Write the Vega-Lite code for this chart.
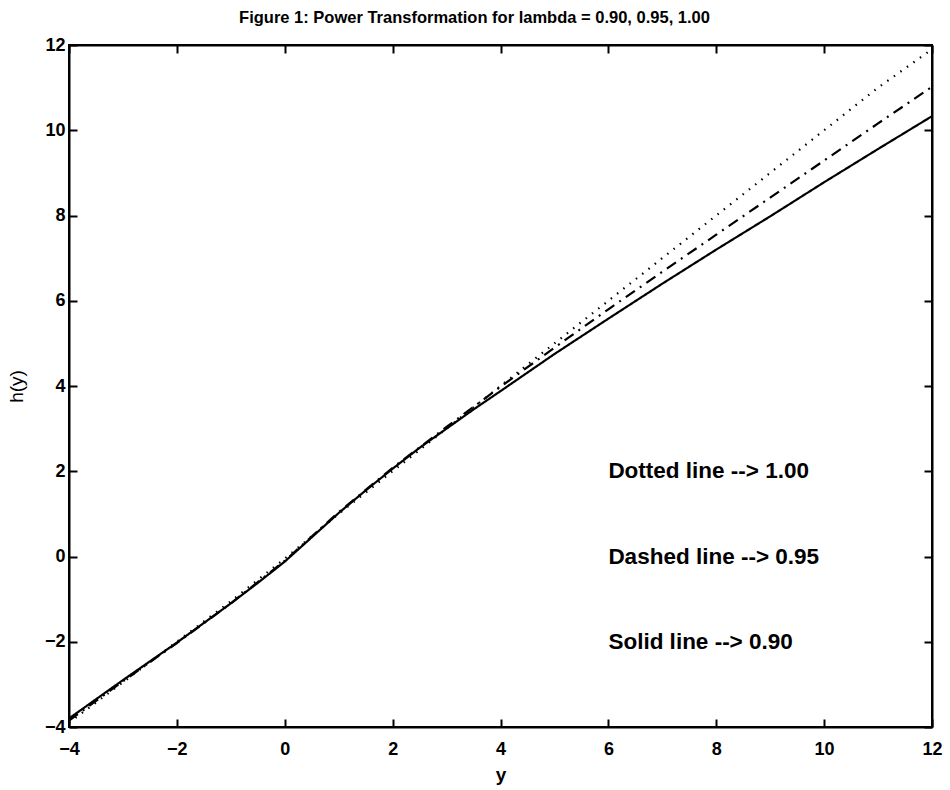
{
  "$schema": "https://vega.github.io/schema/vega-lite/v6.json",
  "width": 863,
  "height": 682,
  "autosize": {"type": "none"},
  "padding": {"left": 69, "top": 45, "right": 18, "bottom": 63},
  "background": "white",
  "config": {
    "view": {"stroke": "black", "strokeWidth": 2},
    "font": "Liberation Sans"
  },
  "title": {
    "text": "Figure 1:  Power Transformation for lambda = 0.90, 0.95, 1.00",
    "fontSize": 16.5,
    "fontWeight": "bold",
    "font": "Liberation Sans",
    "color": "black",
    "anchor": "middle",
    "dx": -26,
    "offset": 10
  },
  "datasets": {
    "curves": [
      {"x": -4, "h": -3.80, "series": "0.90"},
      {"x": -3, "h": -2.90, "series": "0.90"},
      {"x": -2, "h": -2.02, "series": "0.90"},
      {"x": -1, "h": -1.10, "series": "0.90"},
      {"x": -0.5, "h": -0.62, "series": "0.90"},
      {"x": 0, "h": -0.12, "series": "0.90"},
      {"x": 0.5, "h": 0.45, "series": "0.90"},
      {"x": 1, "h": 1.02, "series": "0.90"},
      {"x": 1.5, "h": 1.55, "series": "0.90"},
      {"x": 2, "h": 2.06, "series": "0.90"},
      {"x": 2.5, "h": 2.55, "series": "0.90"},
      {"x": 3, "h": 3.00, "series": "0.90"},
      {"x": 3.5, "h": 3.45, "series": "0.90"},
      {"x": 4, "h": 3.88, "series": "0.90"},
      {"x": 5, "h": 4.75, "series": "0.90"},
      {"x": 6, "h": 5.58, "series": "0.90"},
      {"x": 7, "h": 6.40, "series": "0.90"},
      {"x": 8, "h": 7.20, "series": "0.90"},
      {"x": 9, "h": 7.98, "series": "0.90"},
      {"x": 10, "h": 8.78, "series": "0.90"},
      {"x": 11, "h": 9.56, "series": "0.90"},
      {"x": 12, "h": 10.33, "series": "0.90"},
      {"x": -4, "h": -3.85, "series": "0.95"},
      {"x": -3, "h": -2.93, "series": "0.95"},
      {"x": -2, "h": -2.03, "series": "0.95"},
      {"x": -1, "h": -1.10, "series": "0.95"},
      {"x": -0.5, "h": -0.60, "series": "0.95"},
      {"x": 0, "h": -0.10, "series": "0.95"},
      {"x": 0.5, "h": 0.47, "series": "0.95"},
      {"x": 1, "h": 1.04, "series": "0.95"},
      {"x": 2, "h": 2.08, "series": "0.95"},
      {"x": 3, "h": 3.04, "series": "0.95"},
      {"x": 4, "h": 3.98, "series": "0.95"},
      {"x": 5, "h": 4.90, "series": "0.95"},
      {"x": 6, "h": 5.80, "series": "0.95"},
      {"x": 7, "h": 6.68, "series": "0.95"},
      {"x": 8, "h": 7.55, "series": "0.95"},
      {"x": 9, "h": 8.42, "series": "0.95"},
      {"x": 10, "h": 9.29, "series": "0.95"},
      {"x": 11, "h": 10.16, "series": "0.95"},
      {"x": 12, "h": 11.02, "series": "0.95"},
      {"x": -4, "h": -3.90, "series": "1.00"},
      {"x": -3, "h": -2.95, "series": "1.00"},
      {"x": -2, "h": -2.00, "series": "1.00"},
      {"x": -1, "h": -1.05, "series": "1.00"},
      {"x": 0, "h": -0.05, "series": "1.00"},
      {"x": 1, "h": 1.00, "series": "1.00"},
      {"x": 2, "h": 2.00, "series": "1.00"},
      {"x": 3, "h": 3.00, "series": "1.00"},
      {"x": 4, "h": 4.00, "series": "1.00"},
      {"x": 5, "h": 5.00, "series": "1.00"},
      {"x": 6, "h": 6.00, "series": "1.00"},
      {"x": 7, "h": 7.00, "series": "1.00"},
      {"x": 8, "h": 8.00, "series": "1.00"},
      {"x": 9, "h": 9.00, "series": "1.00"},
      {"x": 10, "h": 10.00, "series": "1.00"},
      {"x": 11, "h": 11.00, "series": "1.00"},
      {"x": 12, "h": 11.90, "series": "1.00"}
    ],
    "notes": [
      {"x": 6, "h": 2, "label": "Dotted line --> 1.00"},
      {"x": 6, "h": 0, "label": "Dashed line --> 0.95"},
      {"x": 6, "h": -2, "label": "Solid line --> 0.90"}
    ]
  },
  "resolve": {"axis": {"x": "independent", "y": "independent"}},
  "layer": [
    {
      "data": {"name": "curves"},
      "mark": {"type": "line", "color": "black", "clip": true},
      "encoding": {
        "x": {
          "field": "x", "type": "quantitative",
          "scale": {"domain": [-4, 12], "nice": false, "zero": false},
          "axis": {
            "orient": "bottom", "values": [-4, -2, 0, 2, 4, 6, 8, 10, 12],
            "title": "y", "titleFontSize": 19, "titleFontWeight": "bold", "titleColor": "black",
            "titlePadding": 7,
            "labelFontSize": 18, "labelFontWeight": "bold", "labelColor": "black",
            "labelPadding": 21, "labelFlush": false,
            "tickSize": -8, "tickColor": "black", "tickWidth": 2,
            "domainColor": "black", "domainWidth": 2, "grid": false
          }
        },
        "y": {
          "field": "h", "type": "quantitative",
          "scale": {"domain": [-4, 12], "nice": false, "zero": false},
          "axis": {
            "orient": "left", "values": [-4, -2, 0, 2, 4, 6, 8, 10, 12],
            "title": "h(y)", "titleFontSize": 19, "titleFontWeight": "normal", "titleColor": "black",
            "titlePadding": 18,
            "labelFontSize": 18, "labelFontWeight": "bold", "labelColor": "black",
            "labelPadding": 12, "labelFlush": false,
            "tickSize": -8, "tickColor": "black", "tickWidth": 2,
            "domainColor": "black", "domainWidth": 2, "grid": false
          }
        },
        "detail": {"field": "series"},
        "strokeDash": {
          "field": "series", "type": "nominal",
          "scale": {"domain": ["0.90", "0.95", "1.00"], "range": [[1, 0], [11, 6, 2, 6], [1.5, 6.5]]},
          "legend": null
        },
        "strokeWidth": {
          "field": "series", "type": "nominal",
          "scale": {"domain": ["0.90", "0.95", "1.00"], "range": [2.2, 2.2, 1.8]},
          "legend": null
        }
      }
    },
    {
      "data": {"name": "notes"},
      "mark": {"type": "text", "align": "left", "baseline": "middle", "fontSize": 22.5, "fontWeight": "bold", "color": "black", "font": "Liberation Sans"},
      "encoding": {
        "x": {"field": "x", "type": "quantitative", "axis": {"orient": "top", "values": [-4, -2, 0, 2, 4, 6, 8, 10, 12], "labels": false, "title": null, "tickSize": -8, "tickColor": "black", "tickWidth": 2, "domainColor": "black", "domainWidth": 2, "grid": false}},
        "y": {"field": "h", "type": "quantitative", "axis": {"orient": "right", "values": [-4, -2, 0, 2, 4, 6, 8, 10, 12], "labels": false, "title": null, "tickSize": -8, "tickColor": "black", "tickWidth": 2, "domainColor": "black", "domainWidth": 2, "grid": false}},
        "text": {"field": "label"}
      }
    }
  ]
}
